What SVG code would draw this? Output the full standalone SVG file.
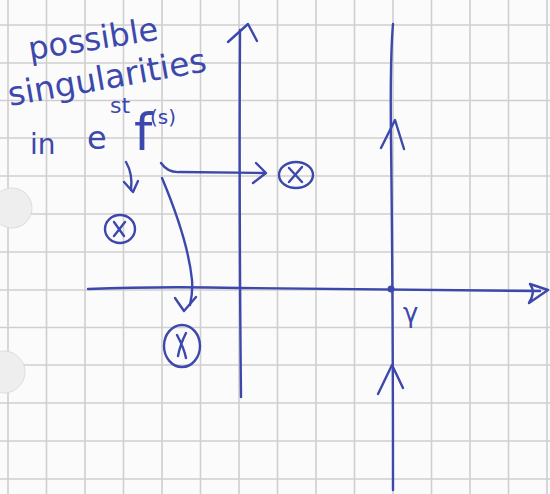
<svg xmlns="http://www.w3.org/2000/svg" width="550" height="494" viewBox="0 0 550 494">
<defs>
<style>
.grid line{stroke:#cfcfcf;stroke-width:1.6}
.pen{fill:none;stroke:#3c48ab;stroke-width:2.4;stroke-linecap:round;stroke-linejoin:round}
.txt{fill:#3c48ab;font-family:"DejaVu Sans",sans-serif;font-weight:normal}
</style>
</defs>
<rect width="550" height="494" fill="#fbfbfb"/>
<g class="grid">
<line x1="8" y1="0" x2="8" y2="494"/><line x1="46.5" y1="0" x2="46.5" y2="494"/><line x1="85" y1="0" x2="85" y2="494"/><line x1="123.5" y1="0" x2="123.5" y2="494"/><line x1="162" y1="0" x2="162" y2="494"/><line x1="200.5" y1="0" x2="200.5" y2="494"/><line x1="239" y1="0" x2="239" y2="494"/><line x1="277.5" y1="0" x2="277.5" y2="494"/><line x1="316" y1="0" x2="316" y2="494"/><line x1="354.5" y1="0" x2="354.5" y2="494"/><line x1="393" y1="0" x2="393" y2="494"/><line x1="431.5" y1="0" x2="431.5" y2="494"/><line x1="470" y1="0" x2="470" y2="494"/><line x1="508.5" y1="0" x2="508.5" y2="494"/><line x1="547" y1="0" x2="547" y2="494"/>
<line x1="0" y1="25" x2="550" y2="25"/><line x1="0" y1="63" x2="550" y2="63"/><line x1="0" y1="100.5" x2="550" y2="100.5"/><line x1="0" y1="138" x2="550" y2="138"/><line x1="0" y1="176" x2="550" y2="176"/><line x1="0" y1="214" x2="550" y2="214"/><line x1="0" y1="252" x2="550" y2="252"/><line x1="0" y1="290" x2="550" y2="290"/><line x1="0" y1="327.5" x2="550" y2="327.5"/><line x1="0" y1="365" x2="550" y2="365"/><line x1="0" y1="403" x2="550" y2="403"/><line x1="0" y1="441" x2="550" y2="441"/><line x1="0" y1="479" x2="550" y2="479"/>
</g>
<g fill="#eeeeee" stroke="#dddddd" stroke-width="1">
<circle cx="12" cy="208" r="20"/>
<circle cx="4" cy="372" r="21"/>
</g>
<g id="connectors" class="pen">
<path d="M88 289 Q160 286 240 288 Q400 290 540 291"/>
<path d="M530 284 L548 290 L529 303 Q536 292 530 284"/>
<path d="M240 30 Q239 200 241 397"/>
<path d="M228 42 L248 24 L257 41"/>
<path d="M393 24 Q390 60 391 140 Q393 300 393 490"/>
<path d="M381 148 L395 120 L404 149"/>
<path d="M378 394 L392 365 L403 388"/>
<circle cx="391" cy="289" r="3.5" fill="#3c48ab" stroke="none"/>
<path d="M161 163 Q168 173 180 172 L265 173"/>
<path d="M256 163 L266 173 L253 183"/>
<path d="M162 178 Q188 240 192 280 Q193 292 190 305"/>
<path d="M175 298 L184 311 L196 297"/>
<path d="M126 162 Q133 174 131 190"/>
<path d="M124 182 L133 192 L138 181"/>
</g>
<g id="label">
<text class="txt" font-size="32" transform="translate(30 60) rotate(-9)">possible</text>
<text class="txt" font-size="33" transform="translate(10 106) rotate(-10)">singularities</text>
<text class="txt" font-size="28" x="30" y="154">in</text>
<text class="txt" font-size="32" x="87" y="149">e</text>
<text class="txt" font-size="22" x="110" y="113">st</text>
<text class="txt" font-size="52" x="134" y="150">f</text>
<text class="txt" font-size="20" x="150" y="124">(s)</text>
</g>
<g id="gamma"><text class="txt" font-size="26" x="403" y="322">γ</text></g>
<g id="sing1" class="pen"><ellipse cx="296" cy="175" rx="17" ry="13"/><path d="M289 168 L302 182 M302 167 L289 182"/></g>
<g id="sing2" class="pen"><ellipse cx="120" cy="229" rx="15" ry="14"/><path d="M114 222 L124 236 M125 222 L114 236"/></g>
<g id="sing3" class="pen"><ellipse cx="182" cy="346" rx="18" ry="21"/><path d="M177 335 Q184 348 186 358 M186 333 Q180 345 178 356"/></g>
</svg>
